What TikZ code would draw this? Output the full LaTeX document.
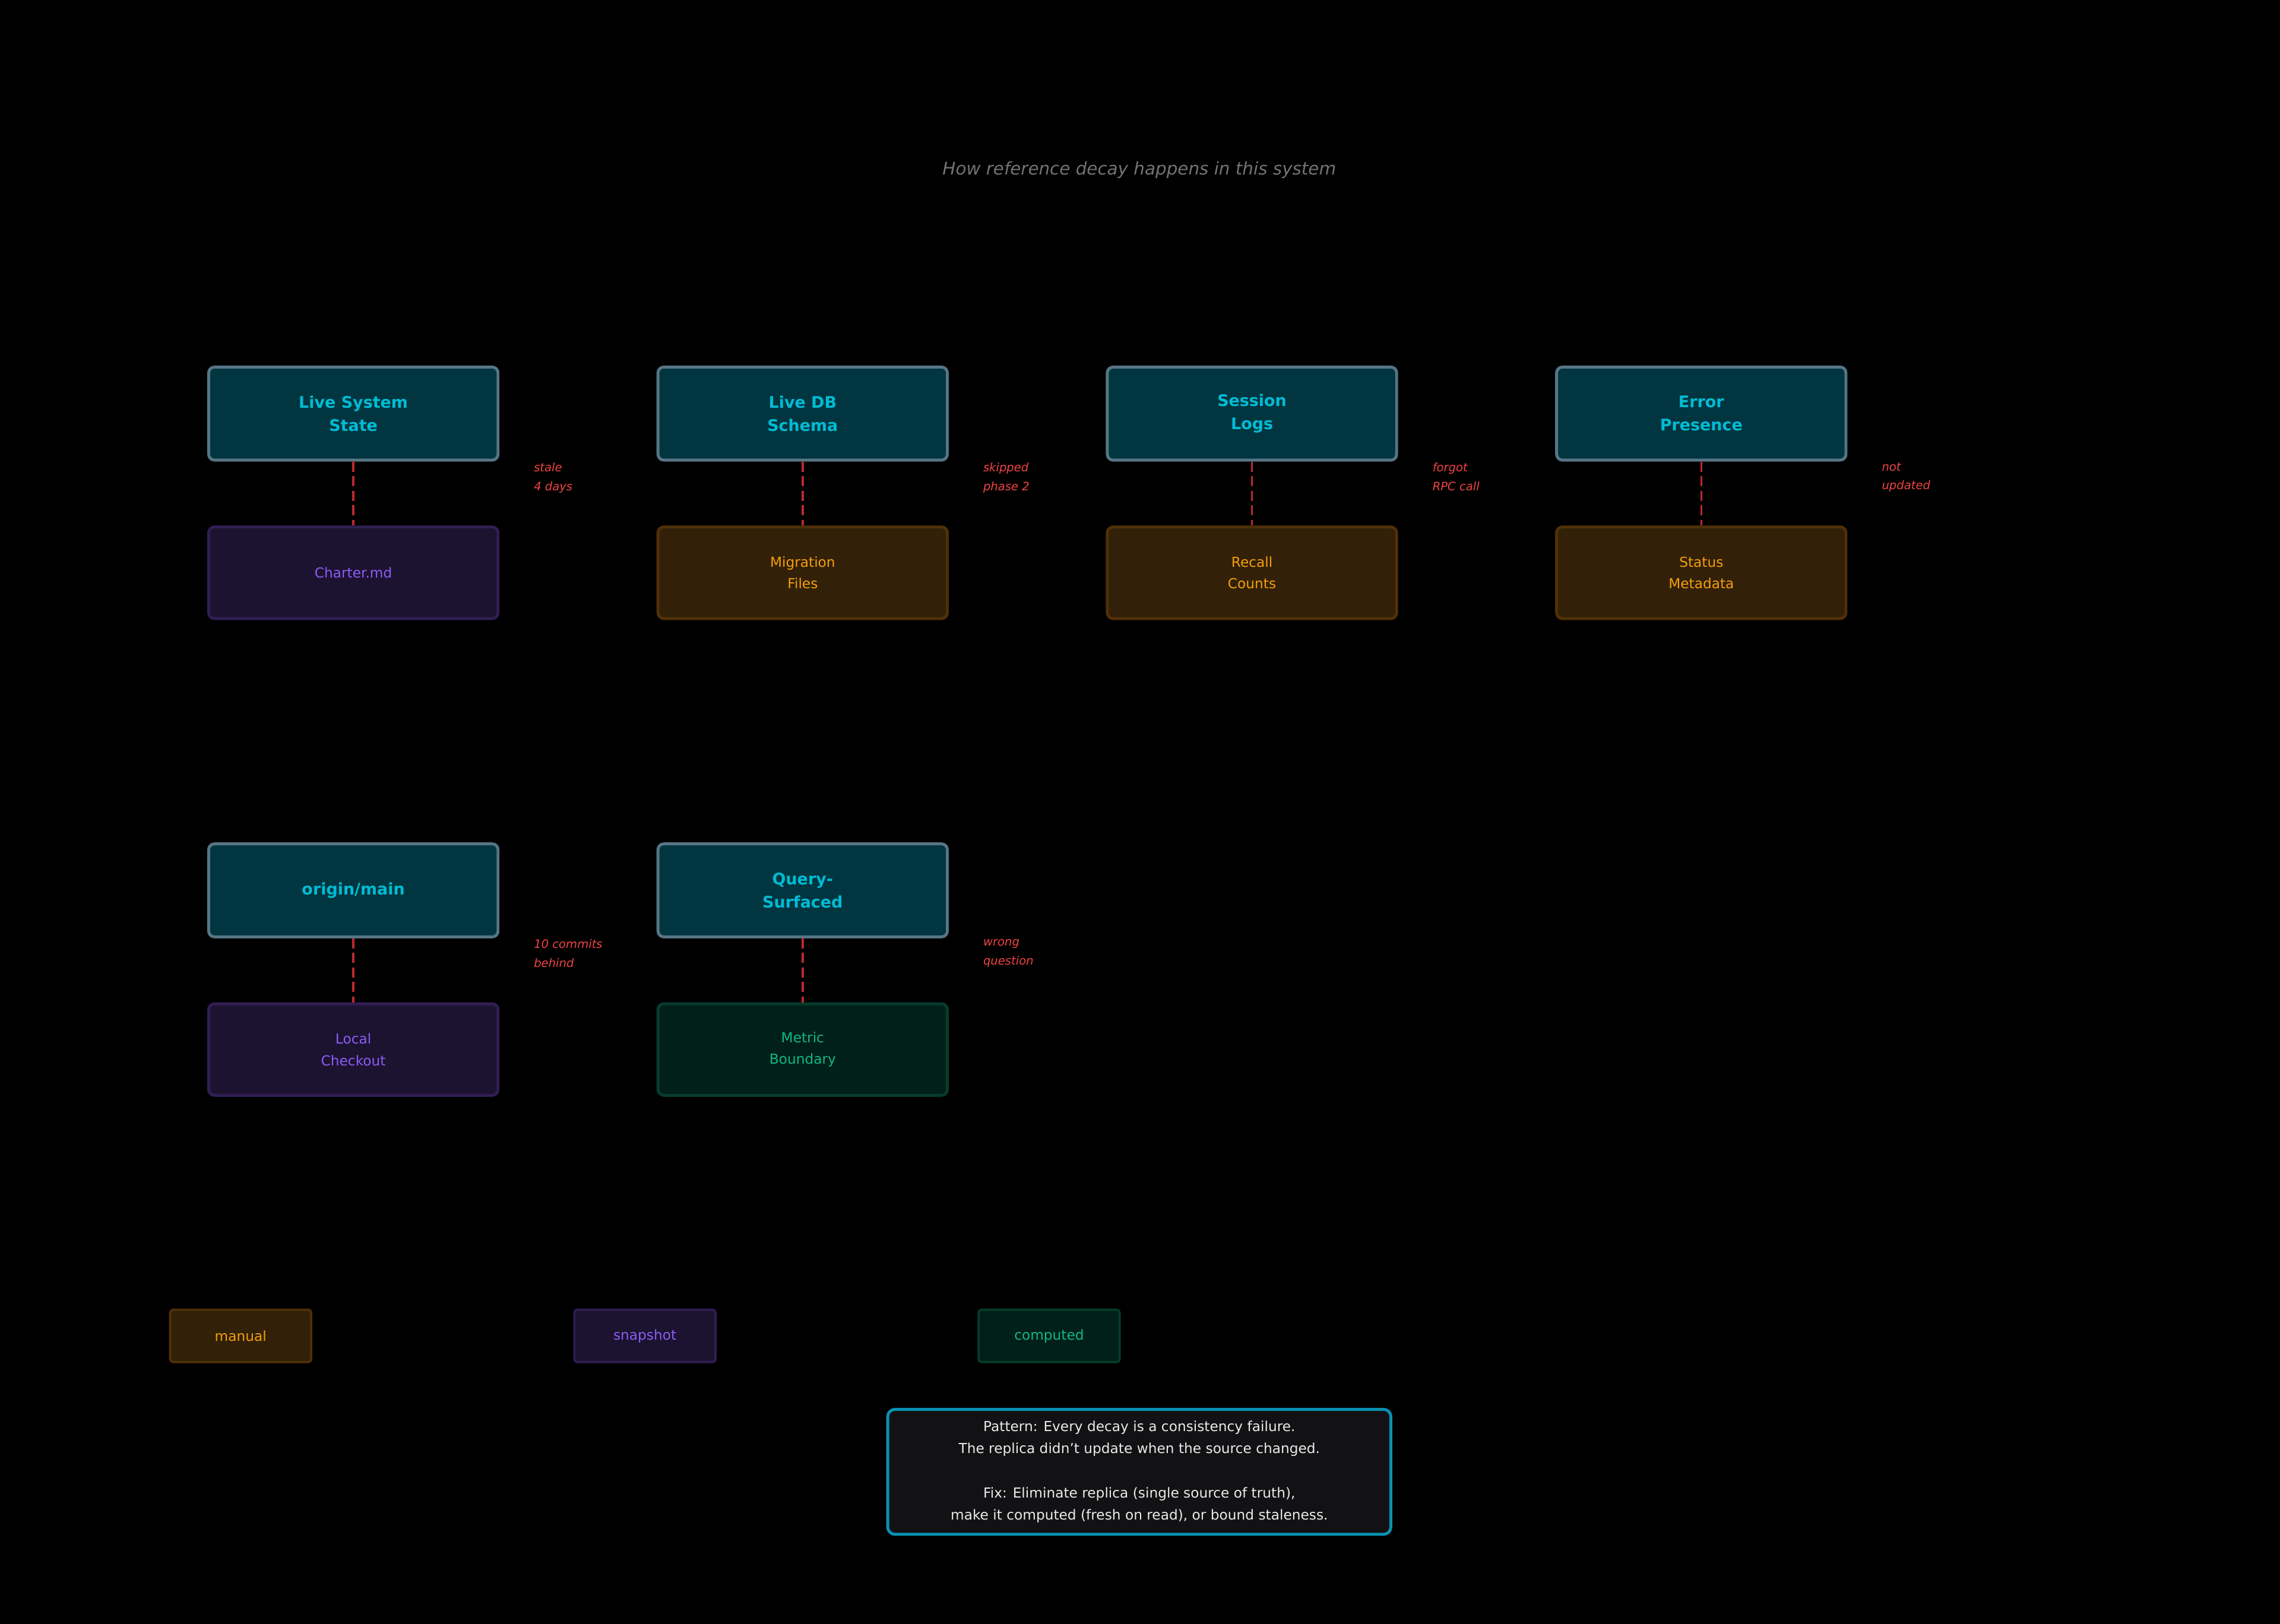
\documentclass[tikz,border=0pt]{standalone}
\usepackage{fontspec}
\setmainfont{DejaVu Sans}
\begin{document}
\begin{tikzpicture}[x=1pt,y=-1pt,
  src/.style={draw=cyan!40!black!90,line width=2pt,rounded corners=4pt,fill={rgb,255:red,1;green,54;blue,64},minimum width=199pt,minimum height=64pt,align=center,text={rgb,255:red,0;green,188;blue,212},font=\fontsize{11}{16}\selectfont\bfseries},
  man/.style={draw={rgb,255:red,80;green,48;blue,8},line width=2pt,rounded corners=4pt,fill={rgb,255:red,50;green,33;blue,8},minimum width=199pt,minimum height=63pt,align=center,text={rgb,255:red,245;green,158;blue,11},font=\fontsize{9.5}{15}\selectfont},
  snap/.style={man,draw={rgb,255:red,48;green,30;blue,84},fill={rgb,255:red,28;green,19;blue,48},text={rgb,255:red,139;green,92;blue,246}},
  comp/.style={man,draw={rgb,255:red,6;green,60;blue,44},fill={rgb,255:red,2;green,32;blue,26},text={rgb,255:red,16;green,185;blue,129}},
  lg/.style={minimum width=97pt,minimum height=36pt,line width=1.5pt,rounded corners=2pt},
  lab/.style={anchor=north west,align=left,text={rgb,255:red,239;green,68;blue,68},font=\fontsize{8}{13}\selectfont\itshape,inner sep=0pt},
  link/.style={draw={rgb,255:red,190;green,40;blue,50},line width=1.5pt,dash pattern=on 7pt off 3pt}]
\fill[black] (0,0) rectangle (1568,1117);
\node[text={rgb,255:red,115;green,115;blue,115},font=\fontsize{12}{14}\selectfont\itshape] (title) at (783.5,117) {How reference decay happens in this system};
\node[src] (s1) at (243,284.5) {Live System\\State};
\node[src] (s2) at (552,284.5) {Live DB\\Schema};
\node[src] (s3) at (861,284.5) {Session\\Logs};
\node[src] (s4) at (1170,284.5) {Error\\Presence};
\node[snap] (r1) at (243,394) {Charter.md};
\node[man] (r2) at (552,394) {Migration\\Files};
\node[man] (r3) at (861,394) {Recall\\Counts};
\node[man] (r4) at (1170,394) {Status\\Metadata};
\node[src] (s5) at (243,612.5) {origin/main};
\node[src] (s6) at (552,612.5) {Query-\\Surfaced};
\node[snap] (r5) at (243,722) {Local\\Checkout};
\node[comp] (r6) at (552,722) {Metric\\Boundary};
\foreach \a/\b in {s1/r1,s2/r2,s3/r3,s4/r4,s5/r5,s6/r6} \draw[link] (\a.south) -- (\b.north);
\node[lab] (l1) at (367,318) {stale\\4 days};
\node[lab] (l2) at (676,318) {skipped\\phase 2};
\node[lab] (l3) at (985,318) {forgot\\RPC call};
\node[lab] (l4) at (1294,318) {not\\updated};
\node[lab] (l5) at (367,646) {10 commits\\behind};
\node[lab] (l6) at (676,646) {wrong\\question};
\node[man,lg] (g1) at (165.5,919) {manual};
\node[snap,lg] (g2) at (443.5,919) {snapshot};
\node[comp,lg] (g3) at (721.5,919) {computed};
\node[draw={rgb,255:red,8;green,145;blue,178},line width=2pt,rounded corners=5pt,fill={rgb,255:red,18;green,18;blue,20},minimum width=346pt,minimum height=86pt,align=center,text={rgb,255:red,235;green,235;blue,235},font=\fontsize{9.5}{15.2}\selectfont] (pat) at (783.5,1012.5) {Pattern: Every decay is a consistency failure.\\The replica didn't update when the source changed.\\[15.2pt]Fix: Eliminate replica (single source of truth),\\make it computed (fresh on read), or bound staleness.};
\end{tikzpicture}
\end{document}
